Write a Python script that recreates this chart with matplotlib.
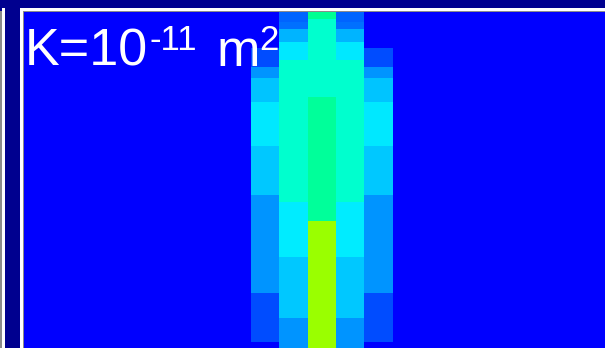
import matplotlib
matplotlib.use('Agg')
import matplotlib.pyplot as plt
import numpy as np
from matplotlib.colors import ListedColormap, hsv_to_rgb
from matplotlib.patches import Rectangle

W, H = 605, 348

# mesh: 21 columns of unit width, plume sits in columns 8..12
n_cols = 21
plume_cols = [8, 9, 10, 11, 12]
# row edges (depth, top = 0)
row_edges = [0, 6.7, 10, 16.7, 30, 36, 47.7, 54.4, 66, 84.4, 89.9, 133.7,
             182.7, 189.4, 208.7, 244.7, 280.4, 305.7, 329.4, 345]

# level per row for outer / inner / centre column (plume is mirrored)
outer = [0, 0, 0, 0, 0, .078, .078, .145, .192, .192, .228, .196, .145,
         .145, .145, .145, .078, .078, 0]
inner = [.098, .098, .110, .176, .228, .228, .30, .30, .30, .30, .30, .30,
         .30, .233, .233, .196, .196, .145, .145]
centre = [.359, .30, .30, .30, .30, .30, .30, .30, .30, .35, .35, .35, .35,
          .35, .65, .65, .65, .65, .65]

label_main = 'K=10'
label_exp = '-11'
label_unit = 'm'
label_unit_exp = '2'

# rainbow: blue (0) -> red (1) by hue
t = np.linspace(0, 1, 256)
hsv = np.stack([(240 - 240 * t) / 360, np.ones_like(t), np.ones_like(t)], axis=1)
cmap = ListedColormap(hsv_to_rgb(hsv))

Z = np.zeros((len(row_edges) - 1, n_cols))
for c, col in zip(plume_cols, [outer, inner, centre, inner, outer]):
    Z[:, c] = col

navy = '#00008f'
fig = plt.figure(figsize=(W / 100, H / 100), dpi=100, facecolor=navy)

left, top = 24.3, 12.3
ax = fig.add_axes([left / W, 0, (W - left) / W, (H - top) / H])
ax.pcolormesh(np.arange(n_cols + 1), row_edges, Z, cmap=cmap, vmin=0, vmax=1,
              shading='flat', antialiased=False, edgecolors='none')
ax.set_xlim(0, 20.5)
ax.set_ylim(H - top, 0)
ax.axis('off')


def px_rect(x0, y0, x1, y1, color):
    fig.add_artist(Rectangle((x0 / W, 1 - y1 / H), (x1 - x0) / W, (y1 - y0) / H,
                             transform=fig.transFigure, color=color, lw=0))


# panel frames
px_rect(0, 10.7, 1.7, H, '#8c8c8c')
px_rect(1.7, 8, 5, H, 'white')
px_rect(20, 8, W, 10.7, 'white')
px_rect(20, 8, 22.7, H, 'white')
px_rect(22.7, 10.7, W, 12.3, '#8c8c8c')
px_rect(22.7, 10.7, 24.3, H, '#8c8c8c')

# label, pieces chained left to right
font = dict(color='white', family=['Liberation Sans', 'DejaVu Sans'], va='baseline', ha='left')
renderer = fig.canvas.get_renderer()
x = 24.5
parts = [(label_main, 37.5, 66, 0), (label_exp, 25, 50, 2),
         (label_unit, 37.5, 66, 19), (label_unit_exp, 25, 50, 0)]
for s, size, base, gap in parts:
    x += gap
    txt = fig.text(x / W, 1 - base / H, s, fontsize=size, **font)
    bb = txt.get_window_extent(renderer)
    x = bb.x1

fig.savefig('out.png', dpi=100, facecolor=navy)
